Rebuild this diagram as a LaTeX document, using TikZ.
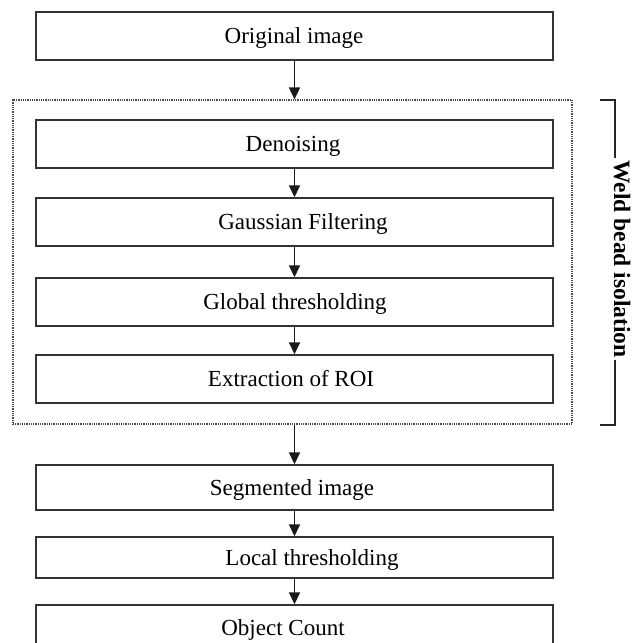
\documentclass[tikz,border=0pt]{standalone}
\usepackage{fontspec}
\setmainfont{Liberation Serif}
\usetikzlibrary{arrows.meta}
\begin{document}
\begin{tikzpicture}[x=1pt,y=-1pt,
  stepbox/.style={draw=black!80, line width=1.5pt, minimum width=517pt, inner sep=0pt},
  lbl/.style={anchor=base, inner sep=0pt, font=\fontsize{23}{27}\selectfont, text=black},
  arr/.style={draw=black!90, line width=1.8pt, -{Triangle[length=12pt,width=11pt]}},
  grpbox/.style={draw=black!70, line width=1.2pt, dash pattern=on 1pt off 0.8pt, inner sep=0pt},
  brk/.style={draw=black!85, line width=1.5pt}]
\useasboundingbox (0,0) rectangle (634,643);
% boxes
\node[stepbox, minimum height=48pt] (orig) at (294.5,36) {};
\node[grpbox, minimum width=559pt, minimum height=324pt] (grp) at (292.5,262) {};
\node[stepbox, minimum height=48pt] (den) at (294.5,144) {};
\node[stepbox, minimum height=48pt] (gau) at (294.5,222) {};
\node[stepbox, minimum height=48pt] (glo) at (294.5,302) {};
\node[stepbox, minimum height=48pt] (roi) at (294.5,379) {};
\node[stepbox, minimum height=45pt] (seg) at (294.5,487.5) {};
\node[stepbox, minimum height=41pt] (loc) at (294.5,557.5) {};
\node[stepbox, minimum height=50pt] (obj) at (294.5,630) {};
% labels
\node[lbl] (t0) at (294,43.5) {Original image};
\node[lbl] (t1) at (293,151.5) {Denoising};
\node[lbl] (t2) at (303,229.5) {Gaussian Filtering};
\node[lbl] (t3) at (295,309.5) {Global thresholding};
\node[lbl] (t4) at (291,386.5) {Extraction of ROI};
\node[lbl] (t5) at (292,495) {Segmented image};
\node[lbl] (t6) at (312,565) {Local thresholding};
\node[lbl] (t7) at (283,635) {Object Count};
% arrows
\draw[arr] (orig.south) -- (orig.south |- grp.north);
\draw[arr] (den.south) -- (gau.north);
\draw[arr] (gau.south) -- (glo.north);
\draw[arr] (glo.south) -- (roi.north);
\draw[arr] (seg.north |- grp.south) -- (seg.north);
\draw[arr] (seg.south) -- (loc.north);
\draw[arr] (loc.south) -- (obj.north);
% bracket
\node[rotate=-90, anchor=base, inner sep=2pt, font=\fontsize{23.5}{28}\bfseries\selectfont] (wb) at (614,259) {Weld bead isolation};
\coordinate (b1) at (600,100);
\coordinate (b2) at (615,100);
\coordinate (b3) at (615,425);
\coordinate (b4) at (600,425);
\draw[brk] (b1) -- (b2) -- (b2 |- wb.west);
\draw[brk] (b3 |- wb.east) -- (b3) -- (b4);
\end{tikzpicture}
\end{document}
